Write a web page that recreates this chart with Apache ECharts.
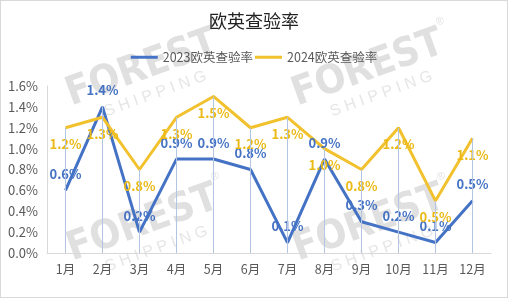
<!DOCTYPE html>
<html><head><meta charset="utf-8">
<script src="https://cdn.jsdelivr.net/npm/echarts@6/dist/echarts.min.js"></script>
<style>html,body{margin:0;padding:0;background:#fff}#c{position:absolute;left:0;top:0;width:508px;height:298px;box-sizing:border-box;border:1px solid #d9d9d9}</style>
</head><body><div id="c"></div>
<script>
const categories = ['1月','2月','3月','4月','5月','6月','7月','8月','9月','10月','11月','12月'];
const rate2023 = [0.6,1.4,0.2,0.9,0.9,0.8,0.1,0.9,0.3,0.2,0.1,0.5];
const rate2024 = [1.2,1.3,0.8,1.3,1.5,1.2,1.3,1.0,0.8,1.2,0.5,1.1];
const yTicks = [0,0.2,0.4,0.6,0.8,1.0,1.2,1.4,1.6];

const blue = '#4472C4', yellow = '#F2C12E';
const chart = echarts.init(document.getElementById('c'));
const drop = categories.map((c,i)=>[{coord:[i,Math.max(rate2023[i],rate2024[i])]},{coord:[i,0]}]);
function mark(x,y){
  return {type:'group',x:x,y:y,rotation:20*Math.PI/180,z:-10,silent:true,children:[
    {type:'text',x:0,y:0,style:{text:'FOREST',fontSize:40,fontWeight:'bold',fontFamily:'DejaVu Sans Condensed',fill:'#e0e0e0',align:'center',verticalAlign:'middle'}},
    {type:'text',x:4,y:28,style:{text:'S H I P P I N G',fontSize:16,fontFamily:'Liberation Sans',fill:'#e6e6e6',align:'center',verticalAlign:'middle'}},
    {type:'text',x:84,y:-20,style:{text:'®',fontSize:11,fontFamily:'Liberation Sans',fill:'#e2e2e2',align:'center',verticalAlign:'middle'}}
  ]};
}
chart.setOption({
  animation:false,
  textStyle:{fontFamily:'"Noto Sans CJK SC", "Noto Sans", sans-serif'},
  graphic:[mark(141,68),mark(367,68),mark(142,223),mark(368,223)],
  title:{text:'欧英查验率',left:'center',top:6,textStyle:{fontSize:18,fontWeight:'normal',color:'#222'}},
  legend:{top:45,left:'center',itemWidth:27,itemHeight:3,itemGap:2,icon:'rect',textStyle:{fontSize:12.5,color:'#595959'},data:['2023欧英查验率','2024欧英查验率']},
  grid:{left:46,right:16,top:85,bottom:44},
  xAxis:{type:'category',data:categories,boundaryGap:true,axisLine:{lineStyle:{color:'#d9d9d9'}},axisTick:{show:false},axisLabel:{color:'#595959',fontSize:12.5,margin:10}},
  yAxis:{type:'value',min:yTicks[0],max:yTicks[yTicks.length-1],interval:0.2,axisLine:{show:true,lineStyle:{color:'#d9d9d9'}},splitLine:{show:false},axisLabel:{color:'#595959',fontSize:13,margin:9,formatter:v=>v.toFixed(1)+'%'}},
  series:[
    {name:'2023欧英查验率',type:'line',data:rate2023,symbol:'circle',symbolSize:0,showSymbol:true,lineStyle:{width:3,color:blue},itemStyle:{color:blue},
     label:{show:true,position:'top',distance:10,color:blue,fontWeight:'bold',fontSize:13,formatter:p=>p.value.toFixed(1)+'%'},
     markLine:{silent:true,symbol:'none',label:{show:false},lineStyle:{color:'#b4c5e4',width:1,type:'solid'},data:drop}},
    {name:'2024欧英查验率',type:'line',data:rate2024,symbol:'circle',symbolSize:0,showSymbol:true,lineStyle:{width:3,color:yellow},itemStyle:{color:yellow},
     label:{show:true,position:'bottom',distance:10,color:'#EBB914',fontWeight:'bold',fontSize:13,formatter:p=>p.value.toFixed(1)+'%'}}
  ]
});
</script></body></html>
